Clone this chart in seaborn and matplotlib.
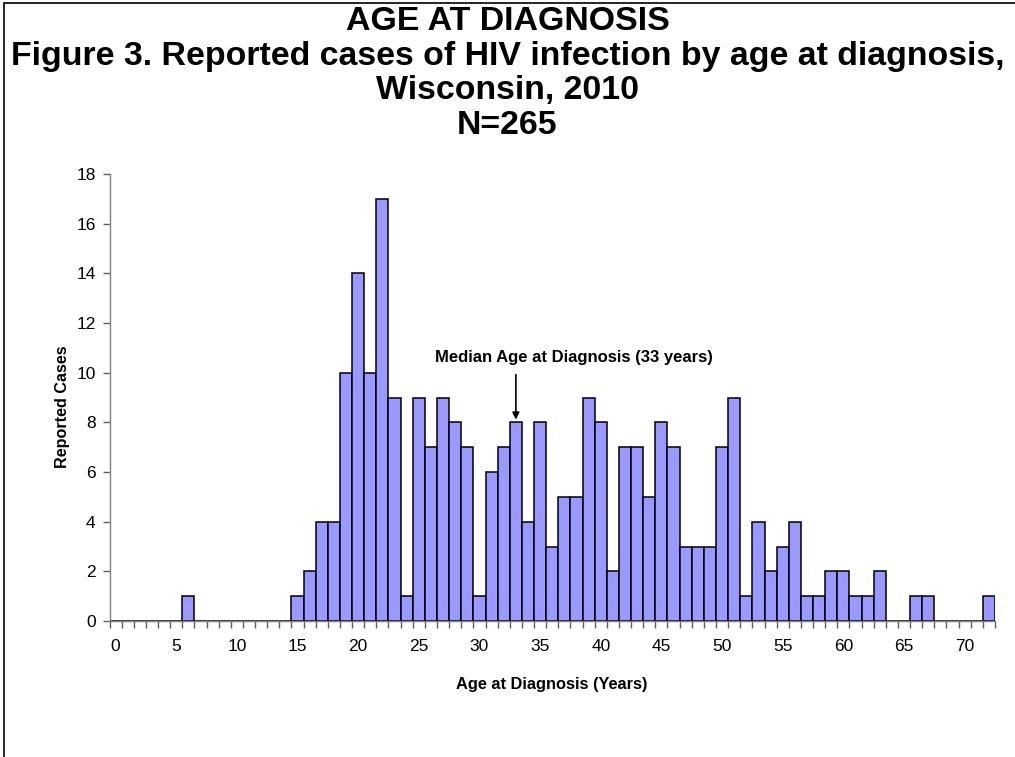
import matplotlib
matplotlib.use("Agg")
import matplotlib.pyplot as plt
from matplotlib.lines import Line2D
import seaborn as sns
import pandas as pd

ages = list(range(0, 73))
cases = [0, 0, 0, 0, 0, 0, 1, 0, 0, 0,
         0, 0, 0, 0, 0, 1, 2, 4, 4, 10,
         14, 10, 17, 9, 1, 9, 7, 9, 8, 7,
         1, 6, 7, 8, 4, 8, 3, 5, 5, 9,
         8, 2, 7, 7, 5, 8, 7, 3, 3, 3,
         7, 9, 1, 4, 2, 3, 4, 1, 1, 2,
         2, 1, 1, 2, 0, 0, 1, 1, 0, 0,
         0, 0, 1]
x_labels = [str(a) if a % 5 == 0 else "" for a in ages]
y_ticks = [0, 2, 4, 6, 8, 10, 12, 14, 16, 18]
median_age = 33

title_lines = ["AGE AT DIAGNOSIS",
               "Figure 3. Reported cases of HIV infection by age at diagnosis,",
               "Wisconsin, 2010",
               "N=265"]

sns.set_theme(style="white")
plt.rcParams['font.family'] = ['Liberation Sans', 'DejaVu Sans']
plt.rcParams['text.color'] = 'black'
plt.rcParams['axes.labelcolor'] = 'black'
plt.rcParams['xtick.color'] = 'black'
plt.rcParams['ytick.color'] = 'black'

df = pd.DataFrame({"age": ages, "cases": cases})

fig = plt.figure(figsize=(10.15, 7.57), dpi=100)
ax = fig.add_axes([109.5 / 1015, 1 - 621 / 757, (995 - 109.5) / 1015, (621 - 174) / 757])

sns.barplot(data=df, x="age", y="cases", order=ages, color="#9999FF",
            edgecolor="black", linewidth=1.1, width=1.0, saturation=1, ax=ax)

ax.set_xlim(-0.5, len(ages) - 0.5)
ax.set_ylim(0, 18)
ax.set_yticks(y_ticks)
ax.set_yticklabels([str(v) for v in y_ticks], fontsize=12.5)
ax.set_xticks(range(len(ages)))
ax.set_xticklabels(x_labels, fontsize=12.5)
ax.tick_params(axis="x", which="major", length=0, pad=13)
ax.set_xticks([i - 0.5 for i in range(len(ages) + 1)], minor=True)
ax.tick_params(axis="x", which="minor", length=5, width=1, color="#606060", direction="out", bottom=True)
ax.tick_params(axis="y", length=5, width=1, color="#606060", direction="out", left=True, pad=5)

for s in ["top", "right"]:
    ax.spines[s].set_visible(False)
for s in ["left", "bottom"]:
    ax.spines[s].set_color("#808080")
    ax.spines[s].set_linewidth(1.0)

ax.set_xlabel("Age at Diagnosis (Years)", fontsize=11.8, fontweight="bold")
ax.set_ylabel("Reported Cases", fontsize=11.6, fontweight="bold")
ax.xaxis.set_label_coords(0.5, -0.125)
ax.yaxis.set_label_coords(-0.045, 0.48)

med_val = cases[ages.index(median_age)]
ax.annotate("", xy=(median_age, med_val), xytext=(median_age, med_val + 2.03),
            arrowprops=dict(arrowstyle="-|>", color="black", lw=1.2, mutation_scale=10))
ax.text(median_age + 4.75, med_val + 2.63, "Median Age at Diagnosis (33 years)",
        ha="center", va="center", fontsize=12, fontweight="bold")

ys = [22, 57, 91, 125]
for t, y in zip(title_lines, ys):
    fig.text(0.5, 1 - y / 757, t, ha="center", va="center", fontsize=24.4, fontweight="bold")

fig.add_artist(Line2D([4 / 1015, 4 / 1015], [0, 1 - 3 / 757], color="black", lw=1.2, transform=fig.transFigure))
fig.add_artist(Line2D([4 / 1015, 1], [1 - 3 / 757, 1 - 3 / 757], color="black", lw=1.2, transform=fig.transFigure))

fig.savefig("out.png", dpi=100)
